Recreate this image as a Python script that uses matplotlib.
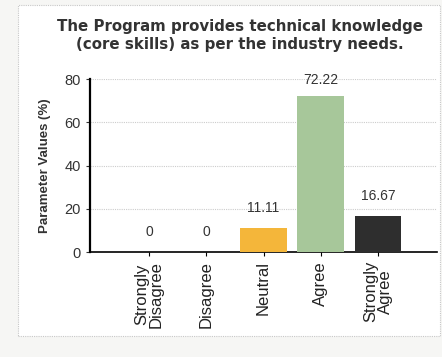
import matplotlib.pyplot as plt
from matplotlib.patches import Rectangle

categories = ["Strongly\nDisagree", "Disagree", "Neutral", "Agree", "Strongly\nAgree"]
values = [0, 0, 11.11, 72.22, 16.67]
value_labels = ["0", "0", "11.11", "72.22", "16.67"]
colors = ["#f4b63a", "#f4b63a", "#f4b63a", "#a7c79a", "#2e2e2e"]

ARIAL = "Liberation Sans"

fig = plt.figure(figsize=(4.42, 3.57), dpi=100)
fig.patch.set_facecolor("#f6f6f4")

# page frame like the scanned figure
fig.patches.append(Rectangle((0.04, 0.06), 0.955, 0.925, transform=fig.transFigure,
                             facecolor="white", edgecolor="#c8c8c8", lw=0.8,
                             linestyle=(0, (1, 1)), zorder=-10))

ax = fig.add_axes([90 / 442, 1 - 252 / 357, 347 / 442, 173 / 357])
ax.set_facecolor("white")

x = list(range(len(categories)))
ax.bar(x, values, width=0.82, color=colors, zorder=3)
for xi, v, lab in zip(x, values, value_labels):
    ax.text(xi, min(v + 6, 76.3), lab, ha="center", va="bottom", fontsize=10,
            family=ARIAL, color="#333333", clip_on=False)

ax.set_xlim(-1.03, 5.03)
ax.set_ylim(0, 80)
ax.set_yticks([0, 20, 40, 60, 80])
ax.set_xticks(x)
ax.set_xticklabels(categories, rotation=90, fontsize=12, family=ARIAL, linespacing=1.0)
for t in ax.get_yticklabels():
    t.set_family(ARIAL)
ax.tick_params(axis="y", labelsize=10.5, colors="#333333", length=3)
ax.tick_params(axis="x", length=3, labelcolor="#222222")
ax.yaxis.grid(True, color="#cccccc", linestyle=(0, (1, 1)), lw=0.8, zorder=0)

for s in ["top", "right"]:
    ax.spines[s].set_visible(False)
ax.spines["left"].set_linewidth(1.6)
ax.spines["bottom"].set_linewidth(1.2)

ax.set_ylabel("Parameter Values (%)", fontsize=9.5, fontweight="bold", family=ARIAL,
              color="#333333", labelpad=10)
fig.text(0.543, 1 - 35 / 357, "The Program provides technical knowledge\n(core skills) as per the industry needs.",
         ha="center", va="center", fontsize=10.8, fontweight="bold", color="#333333", linespacing=1.25)

fig.savefig("out.png", dpi=100)
